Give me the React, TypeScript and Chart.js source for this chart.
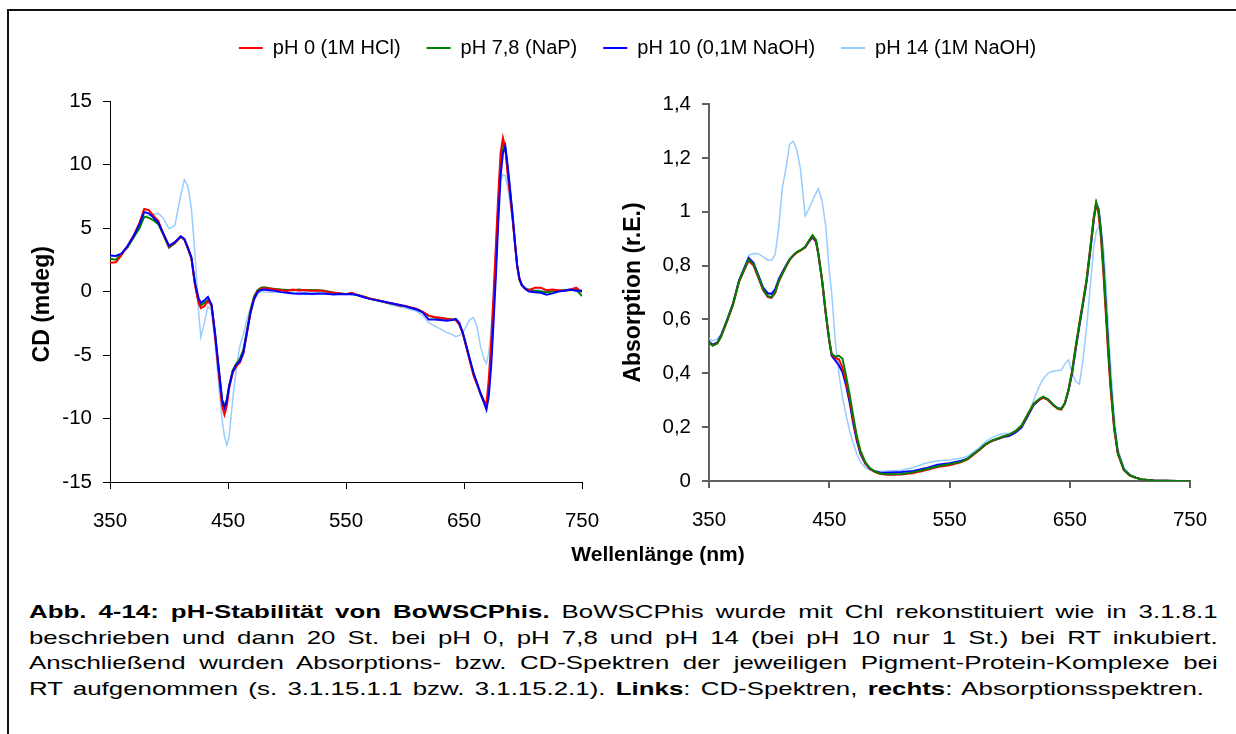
import React, { useEffect, useRef } from 'react';
import { Chart, registerables } from 'chart.js';

Chart.register(...registerables);
Chart.defaults.font.family = "'Liberation Sans', Arial, sans-serif";
Chart.defaults.color = '#000';

// ---- series meta ----
const seriesLabels = ['pH 0 (1M HCl)', 'pH 7,8 (NaP)', 'pH 10 (0,1M NaOH)', 'pH 14 (1M NaOH)'];
const seriesColors = ['#FF0000', '#008000', '#0000FF', '#99CCFF'];

// ---- CD spectra (left) ----
const cdWavelengths = [
  350, 355, 360, 365, 370, 375, 379, 383, 387, 391,
  395, 400, 405, 410, 413, 416, 419, 422, 425, 427,
  430, 433, 436, 439, 442, 445, 447, 449, 451, 454,
  457, 460, 463, 466, 469, 472, 475, 478, 481, 485,
  490, 495, 500, 505, 510, 515, 520, 525, 530, 535,
  540, 545, 550, 555, 560, 565, 570, 575, 580, 585,
  590, 595, 600, 605, 610, 615, 620, 625, 630, 635,
  640, 643, 646, 649, 652, 655, 658, 661, 664, 667,
  669, 671, 673, 675, 677, 679, 681, 683, 685, 687,
  689, 691, 693, 695, 697, 699, 702, 705, 710, 715,
  720, 725, 730, 735, 740, 745, 750,
];
const cdPH0 = [
  2.26, 2.3, 2.9, 3.6, 4.4, 5.4, 6.5, 6.4, 5.95, 5.55,
  4.6, 3.55, 3.85, 4.3, 4.1, 3.4, 2.6, 0.5, -0.9, -1.3,
  -1.15, -0.76, -1.1, -3.5, -6.3, -9.0, -9.7, -9.0, -7.6, -6.4,
  -5.9, -5.6, -4.9, -3.3, -1.7, -0.6, 0.0, 0.2, 0.26, 0.24,
  0.16, 0.1, 0.05, 0.15, 0.08, 0.12, 0.05, 0.08, 0.05, -0.05,
  -0.1, -0.15, -0.21, -0.1, -0.3, -0.42, -0.55, -0.65, -0.74, -0.9,
  -0.95, -1.1, -1.12, -1.25, -1.38, -1.6, -1.9, -2.0, -2.07, -2.15,
  -2.2, -2.25, -2.6, -3.3, -4.4, -5.5, -6.6, -7.3, -8.0, -8.6,
  -8.9, -6.9, -4.0, -0.37, 3.6, 7.5, 10.9, 12.1, 11.3, 9.2,
  7.6, 5.9, 3.9, 2.0, 0.9, 0.5, 0.2, 0.1, 0.3, 0.3,
  0.1, 0.15, 0.1, 0.05, 0.15, 0.3, -0.05,
];
const cdPH78 = [
  2.57, 2.5, 3.0, 3.5, 4.25, 5.0, 5.9, 5.8, 5.6, 5.3,
  4.5, 3.45, 3.8, 4.3, 4.1, 3.4, 2.6, 0.6, -0.7, -1.1,
  -0.9, -0.68, -1.05, -3.3, -6.0, -8.6, -9.0, -8.5, -7.4, -6.2,
  -5.7, -5.3, -4.6, -3.1, -1.5, -0.4, 0.1, 0.3, 0.33, 0.26,
  0.2, 0.15, 0.12, 0.1, 0.15, 0.1, 0.12, 0.1, 0.08, 0.0,
  -0.1, -0.15, -0.2, -0.18, -0.28, -0.4, -0.55, -0.65, -0.76, -0.88,
  -0.97, -1.08, -1.15, -1.28, -1.4, -1.6, -1.9, -2.05, -2.1, -2.15,
  -2.2, -2.2, -2.55, -3.3, -4.3, -5.4, -6.4, -7.3, -8.1, -8.7,
  -9.0, -7.7, -5.1, -1.4, 2.26, 6.45, 10.1, 11.6, 11.3, 9.7,
  7.9, 6.1, 4.0, 2.1, 1.0, 0.5, 0.25, 0.15, 0.05, 0.0,
  -0.05, 0.0, 0.05, 0.1, 0.1, 0.15, -0.35,
];
const cdPH10 = [
  2.83, 2.8, 3.0, 3.6, 4.35, 5.3, 6.25, 6.15, 5.8, 5.4,
  4.6, 3.6, 3.9, 4.35, 4.15, 3.45, 2.7, 0.7, -0.5, -0.9,
  -0.7, -0.42, -1.0, -3.25, -5.9, -8.5, -9.15, -8.6, -7.45, -6.3,
  -5.75, -5.5, -4.8, -3.25, -1.7, -0.63, -0.05, 0.12, 0.15, 0.1,
  0.05, -0.05, -0.1, -0.15, -0.18, -0.15, -0.2, -0.18, -0.16, -0.2,
  -0.24, -0.2, -0.22, -0.2, -0.3, -0.45, -0.58, -0.68, -0.76, -0.85,
  -0.97, -1.05, -1.15, -1.3, -1.42, -1.65, -2.2, -2.2, -2.25, -2.3,
  -2.25, -2.15, -2.47, -3.25, -4.3, -5.35, -6.4, -7.2, -8.0, -8.77,
  -9.3, -8.24, -5.9, -2.5, 1.2, 5.4, 9.08, 10.9, 11.45, 9.9,
  8.1, 6.2, 4.1, 2.1, 1.0, 0.5, 0.2, 0.0, -0.05, -0.1,
  -0.25, -0.15, 0.0, 0.05, 0.15, 0.05, 0.05,
];
const cdPH14 = [
  2.8, 2.8, 3.0, 3.5, 4.2, 5.0, 5.85, 6.0, 6.1, 6.15,
  5.8, 4.95, 5.2, 7.6, 8.8, 8.3, 6.5, 3.0, -1.5, -3.6,
  -2.45, -1.15, -1.5, -4.05, -7.2, -10.1, -11.4, -12.1, -11.4, -8.5,
  -6.15, -4.3, -3.4, -2.2, -1.3, -0.58, -0.24, 0.03, -0.03, -0.05,
  -0.05, -0.05, -0.05, -0.08, -0.05, -0.05, -0.08, -0.05, -0.05, -0.1,
  -0.12, -0.15, -0.2, -0.25, -0.3, -0.45, -0.6, -0.7, -0.8, -0.95,
  -1.1, -1.2, -1.3, -1.42, -1.55, -1.9, -2.45, -2.7, -2.94, -3.2,
  -3.4, -3.55, -3.46, -3.25, -2.73, -2.2, -2.07, -2.73, -4.3, -5.35,
  -5.67, -4.83, -3.0, -0.1, 3.6, 7.24, 8.7, 9.2, 9.1, 8.2,
  7.0, 5.6, 3.9, 2.2, 1.1, 0.6, 0.3, 0.15, 0.1, 0.1,
  0.05, 0.0, 0.05, 0.15, 0.2, 0.0, 0.1,
];

// ---- Absorption spectra (right) ----
const absWavelengths = [
  350, 353, 357, 360, 365, 370, 375, 380, 383, 387,
  391, 395, 399, 402, 405, 408, 411, 414, 417, 420,
  423, 426, 430, 433, 436, 439, 441, 444, 447, 450,
  452, 455, 458, 461, 464, 467, 470, 473, 476, 480,
  484, 488, 492, 496, 500, 510, 520, 530, 540, 550,
  560, 565, 570, 575, 580, 585, 590, 595, 600, 605,
  610, 615, 620, 625, 628, 632, 636, 640, 643, 646,
  649, 652, 655, 658, 661, 664, 667, 670, 672, 674,
  676, 678, 680, 682, 684, 687, 690, 695, 700, 705,
  710, 720, 730, 740, 750,
];
const absPH0 = [
  0.515, 0.503, 0.512, 0.535, 0.593, 0.655, 0.74, 0.79, 0.818, 0.8,
  0.755, 0.708, 0.683, 0.68, 0.698, 0.74, 0.768, 0.795, 0.82, 0.836,
  0.848, 0.855, 0.868, 0.89, 0.91, 0.89, 0.84, 0.745, 0.625, 0.52,
  0.47, 0.457, 0.452, 0.42, 0.37, 0.305, 0.225, 0.155, 0.105, 0.066,
  0.045, 0.033, 0.027, 0.024, 0.023, 0.024, 0.03, 0.04, 0.052, 0.058,
  0.07, 0.08, 0.098, 0.115, 0.135, 0.148, 0.157, 0.165, 0.172, 0.185,
  0.205, 0.245, 0.285, 0.303, 0.31, 0.3, 0.282, 0.268, 0.265, 0.29,
  0.34, 0.41, 0.5, 0.585, 0.665, 0.75, 0.865, 0.98, 1.03, 0.99,
  0.9, 0.77, 0.62, 0.47, 0.34, 0.19, 0.1, 0.04, 0.02, 0.012,
  0.006, 0.002, 0.001, 0.0, 0.0,
];
const absPH78 = [
  0.515, 0.503, 0.512, 0.537, 0.595, 0.657, 0.742, 0.793, 0.822, 0.805,
  0.76, 0.712, 0.686, 0.683, 0.702, 0.743, 0.77, 0.797, 0.822, 0.838,
  0.85, 0.857, 0.87, 0.892, 0.913, 0.895, 0.845, 0.75, 0.63, 0.525,
  0.472, 0.462, 0.465, 0.455, 0.39, 0.32, 0.24, 0.165, 0.112, 0.07,
  0.047, 0.035, 0.029, 0.026, 0.025, 0.026, 0.033, 0.043, 0.055, 0.062,
  0.072, 0.082, 0.1, 0.117, 0.137, 0.15, 0.158, 0.166, 0.173, 0.186,
  0.207, 0.248, 0.287, 0.306, 0.313, 0.303, 0.284, 0.27, 0.267, 0.29,
  0.34, 0.41, 0.5, 0.583, 0.662, 0.745, 0.86, 0.98, 1.035, 1.005,
  0.92, 0.79, 0.645, 0.49, 0.355, 0.2, 0.105, 0.042, 0.021, 0.012,
  0.006, 0.002, 0.001, 0.0, 0.0,
];
const absPH10 = [
  0.518, 0.506, 0.515, 0.54, 0.598, 0.66, 0.745, 0.798, 0.828, 0.81,
  0.765, 0.718, 0.697, 0.695, 0.712, 0.75, 0.775, 0.8, 0.823, 0.838,
  0.85, 0.856, 0.868, 0.888, 0.905, 0.888, 0.84, 0.745, 0.625, 0.52,
  0.465, 0.448, 0.43, 0.405, 0.355, 0.29, 0.212, 0.148, 0.1, 0.064,
  0.045, 0.036, 0.032, 0.031, 0.032, 0.033, 0.037, 0.047, 0.06, 0.066,
  0.075, 0.083, 0.1, 0.117, 0.136, 0.148, 0.156, 0.163, 0.168, 0.18,
  0.2, 0.24, 0.282, 0.302, 0.31, 0.302, 0.284, 0.27, 0.268, 0.288,
  0.335, 0.4, 0.49, 0.575, 0.655, 0.74, 0.85, 0.97, 1.03, 1.01,
  0.93, 0.8, 0.65, 0.5, 0.36, 0.2, 0.105, 0.042, 0.021, 0.012,
  0.006, 0.002, 0.001, 0.0, 0.0,
];
const absPH14 = [
  0.53, 0.52, 0.528, 0.545, 0.595, 0.658, 0.745, 0.8, 0.838, 0.845,
  0.844, 0.832, 0.82, 0.82, 0.84, 0.94, 1.09, 1.16, 1.25, 1.262,
  1.23, 1.16, 0.985, 1.01, 1.04, 1.07, 1.085, 1.04, 0.95, 0.78,
  0.7, 0.52, 0.4, 0.31, 0.245, 0.185, 0.14, 0.1, 0.07, 0.05,
  0.04, 0.036, 0.035, 0.036, 0.038, 0.04, 0.05, 0.066, 0.075, 0.078,
  0.085, 0.092, 0.108, 0.125, 0.146, 0.16, 0.17, 0.176, 0.176, 0.18,
  0.195, 0.24, 0.3, 0.355, 0.38, 0.4, 0.408, 0.41, 0.412, 0.435,
  0.45, 0.4, 0.37, 0.36, 0.45, 0.57, 0.72, 0.87, 0.925, 0.945,
  0.93, 0.87, 0.74, 0.58, 0.43, 0.24, 0.12, 0.05, 0.025, 0.012,
  0.006, 0.002, 0.001, 0.0, 0.0,
];

// ---- ticks ----
const wlTickValues = [350, 450, 550, 650, 750];
const wlTickLabels = ['350', '450', '550', '650', '750'];
const cdTickValues = [-15, -10, -5, 0, 5, 10, 15];
const cdTickLabels = ['-15', '-10', '-5', '0', '5', '10', '15'];
const absTickValues = [0, 0.2, 0.4, 0.6, 0.8, 1, 1.2, 1.4];
const absTickLabels = ['0', '0,2', '0,4', '0,6', '0,8', '1', '1,2', '1,4'];

const FONT = "'Liberation Sans', Arial, sans-serif";

function fixAxis(size: number, horizontal: boolean) {
  return (scale: any) => {
    if (horizontal) scale.height = size;
    else scale.width = size;
    scale.paddingLeft = 0;
    scale.paddingRight = 0;
    scale.paddingTop = 0;
    scale.paddingBottom = 0;
  };
}

function setTicks(values: number[]) {
  return (scale: any) => {
    scale.ticks = values.map((v) => ({ value: v }));
  };
}

function buildDatasets(xs: number[], series: number[][], order: number[]) {
  return series.map((vals, k) => ({
    label: seriesLabels[k],
    data: xs.map((x, i) => ({ x, y: vals[i] })),
    borderColor: seriesColors[k],
    backgroundColor: seriesColors[k],
    borderWidth: k === 3 ? 1.5 : 2,
    pointRadius: 0,
    fill: false,
    tension: 0,
    order: order[k],
  }));
}

function axisStyle(color: string, width: number) {
  return {
    grid: { display: true, drawOnChartArea: false, drawTicks: true, tickLength: 7, color, lineWidth: width },
    border: { display: true, color, width },
  };
}

function spectrumConfig(opts: {
  xs: number[];
  series: number[][];
  order: number[];
  yMin: number;
  yMax: number;
  yTicks: number[];
  yLabels: string[];
  yTitle: string;
  yTitlePad: number;
  yAxisWidth: number;
  padding: any;
  axisColor: string;
  axisWidth: number;
}): any {
  return {
    type: 'line',
    data: { datasets: buildDatasets(opts.xs, opts.series, opts.order) },
    options: {
      responsive: false,
      animation: false,
      devicePixelRatio: 1,
      events: [],
      layout: { padding: opts.padding },
      plugins: { legend: { display: false }, tooltip: { enabled: false } },
      scales: {
        x: {
          type: 'linear',
          min: 350,
          max: 750,
          afterBuildTicks: setTicks(wlTickValues),
          afterFit: fixAxis(50, true),
          ticks: {
            callback: (_v: any, i: number) => wlTickLabels[i],
            font: { size: 20.5, family: FONT },
            color: '#000',
            padding: 20,
            maxRotation: 0,
            autoSkip: false,
          },
          ...axisStyle(opts.axisColor, opts.axisWidth),
        },
        y: {
          type: 'linear',
          min: opts.yMin,
          max: opts.yMax,
          afterBuildTicks: setTicks(opts.yTicks),
          afterFit: fixAxis(opts.yAxisWidth, false),
          ticks: {
            callback: (_v: any, i: number) => opts.yLabels[i],
            font: { size: 20.5, family: FONT },
            color: '#000',
            padding: 11,
            autoSkip: false,
          },
          title: {
            display: true,
            text: opts.yTitle,
            font: { size: 23, weight: 'bold', family: FONT },
            color: '#000',
            padding: { top: opts.yTitlePad, bottom: 0 },
          },
          ...axisStyle(opts.axisColor, opts.axisWidth),
        },
      },
    },
  };
}

function legendConfig(): any {
  return {
    type: 'line',
    data: {
      datasets: seriesLabels.map((label, k) => ({
        label,
        data: [],
        borderColor: seriesColors[k],
        backgroundColor: seriesColors[k],
        borderWidth: 2,
      })),
    },
    options: {
      responsive: false,
      animation: false,
      devicePixelRatio: 1,
      events: [],
      layout: { padding: { left: 39, top: 12, right: 0, bottom: 0 } },
      scales: { x: { display: false }, y: { display: false } },
      plugins: {
        tooltip: { enabled: false },
        legend: {
          display: true,
          position: 'top',
          align: 'center',
          labels: {
            usePointStyle: true,
            pointStyle: 'line',
            pointStyleWidth: 24,
            padding: 26,
            color: '#000',
            font: { size: 20, family: FONT },
          },
        },
      },
    },
  };
}

function ChartCanvas(props: { make: () => any; left: number; top: number; width: number; height: number }) {
  const ref = useRef<HTMLCanvasElement>(null);
  useEffect(() => {
    const chart = new Chart(ref.current as HTMLCanvasElement, props.make());
    return () => chart.destroy();
  }, []);
  return (
    <canvas
      ref={ref}
      width={props.width}
      height={props.height}
      style={{ position: 'absolute', left: props.left, top: props.top, width: props.width, height: props.height }}
    />
  );
}

const captionLine: React.CSSProperties = {
  position: 'absolute',
  left: 29,
  height: 26,
  fontFamily: FONT,
  fontSize: 19,
  lineHeight: '26px',
  color: '#000',
  textAlign: 'justify',
  textAlignLast: 'justify' as any,
  transform: 'scaleX(1.36)',
  transformOrigin: 'left top',
};

export default function App() {
  return (
    <div
      style={{
        position: 'absolute',
        left: 0,
        top: 0,
        width: 1236,
        height: 734,
        overflow: 'hidden',
        background: '#fff',
      }}
    >
      <div
        style={{
          position: 'absolute',
          left: 7,
          top: 9,
          width: 1236,
          height: 734,
          borderLeft: '2px solid #111',
          borderTop: '2px solid #111',
        }}
      />
      <ChartCanvas make={legendConfig} left={0} top={0} width={1236} height={200} />
      <ChartCanvas
        make={() =>
          spectrumConfig({
            xs: cdWavelengths,
            series: [cdPH0, cdPH78, cdPH10, cdPH14],
            order: [1, 2, 0, 3],
            yMin: -15,
            yMax: 15,
            yTicks: cdTickValues,
            yLabels: cdTickLabels,
            yTitle: 'CD (mdeg)\u00A0\u00A0\u00A0\u00A0',
            yTitlePad: 29,
            yAxisWidth: 110,
            padding: { left: 0, right: 38, top: 21, bottom: 28 },
            axisColor: '#000',
            axisWidth: 1,
          })
        }
        left={0}
        top={80}
        width={620}
        height={480}
      />
      <ChartCanvas
        make={() =>
          spectrumConfig({
            xs: absWavelengths,
            series: [absPH0, absPH78, absPH10, absPH14],
            order: [1, 0, 2, 3],
            yMin: 0,
            yMax: 1.4,
            yTicks: absTickValues,
            yLabels: absTickLabels,
            yTitle: 'Absorption (r.E.)',
            yTitlePad: 0,
            yAxisWidth: 89,
            padding: { left: 0, right: 46, top: 24, bottom: 29 },
            axisColor: '#606060',
            axisWidth: 2,
          })
        }
        left={620}
        top={80}
        width={616}
        height={480}
      />
      <div
        style={{
          position: 'absolute',
          left: 458,
          top: 541,
          width: 400,
          textAlign: 'center',
          fontFamily: FONT,
          fontWeight: 'bold',
          fontSize: 21,
          lineHeight: '26px',
          color: '#000',
        }}
      >
        Wellenlänge (nm)
      </div>
      <div style={{ ...captionLine, top: 599, width: 874 }}>
        <b>Abb. 4-14: pH-Stabilität von BoWSCPhis.</b> BoWSCPhis wurde mit Chl rekonstituiert wie in 3.1.8.1
      </div>
      <div style={{ ...captionLine, top: 625, width: 874 }}>
        beschrieben und dann 20 St. bei pH 0, pH 7,8 und pH 14 (bei pH 10 nur 1 St.) bei RT inkubiert.
      </div>
      <div style={{ ...captionLine, top: 650, width: 874 }}>
        Anschließend wurden Absorptions- bzw. CD-Spektren der jeweiligen Pigment-Protein-Komplexe bei
      </div>
      <div style={{ ...captionLine, top: 676, width: 864 }}>
        RT aufgenommen (s. 3.1.15.1.1 bzw. 3.1.15.2.1). <b>Links</b>: CD-Spektren, <b>rechts</b>: Absorptionsspektren.
      </div>
    </div>
  );
}
